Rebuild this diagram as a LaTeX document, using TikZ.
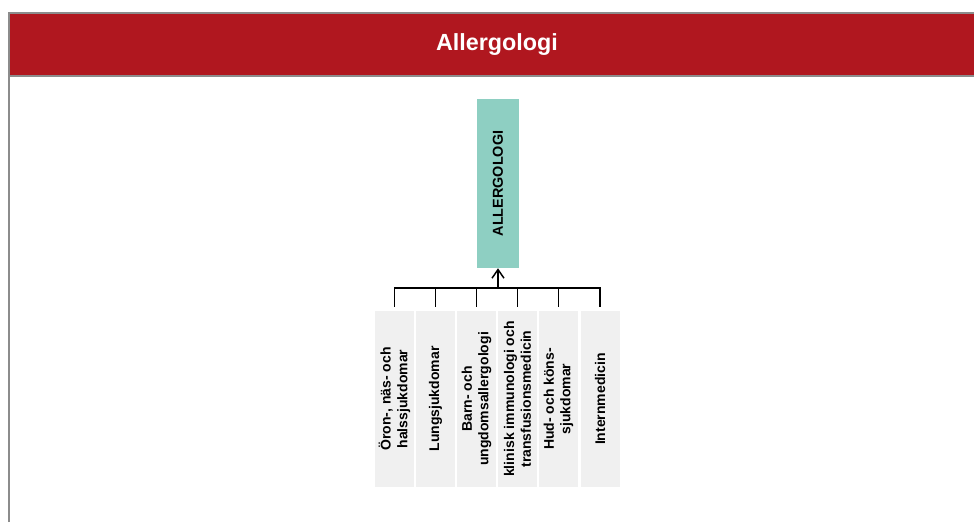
\documentclass[tikz,border=0pt]{standalone}
\usepackage{fontspec}
\setmainfont{Liberation Sans}
\usetikzlibrary{arrows.meta, positioning}
\definecolor{bannerred}{HTML}{B0171F}
\definecolor{tealbox}{HTML}{8ECFC2}
\definecolor{fieldgray}{HTML}{F0F0F0}
\definecolor{framegray}{HTML}{8C8C8C}

\begin{document}
\begin{tikzpicture}[x=0.75pt, y=0.75pt,
        field/.style={rotate=90, fill=fieldgray, minimum width=132pt, minimum height=29.25pt,
            inner sep=0pt, align=center, font=\fontsize{10.5}{12.5}\selectfont\bfseries},
        link/.style={line width=0.8pt, shorten <=3pt}]
        \useasboundingbox (0,0) rectangle (974,522);
        % frame and banner
        \fill[bannerred] (9,446) rectangle (974,509);
        \draw[framegray, line width=1pt] (9,0) -- (9,509) -- (974,509);
        \draw[framegray, line width=1pt] (9,446) -- (974,446);
        \node[text=white, font=\fontsize{17.5}{20}\selectfont\bfseries] (title) at (497,477) {Allergologi};
        
        \node[rotate=90, fill=tealbox, minimum width=126.75pt, minimum height=31.5pt,
            font=\fontsize{10.8}{12.5}\selectfont\bfseries] (allergologi) at (498,338.5) {ALLERGOLOGI};
        \coordinate (hub) at (498,234);
        
        \node[field] (oron) at (394.5,123) {Öron-, näs- och\\halssjukdomar};
        \node[field] (lunga) at (435.5,123) {Lungsjukdomar};
        \node[field] (barn) at (476.5,123) {Barn- och\\ungdomsallergologi};
        \node[field] (klinisk) at (517.5,123) {klinisk immunologi och\\transfusionsmedicin};
        \node[field] (hud) at (558.5,123) {Hud- och köns-\\sjukdomar};
        \node[field] (intern) at (600,123) {Internmedicin};
        
        \draw[link] (oron.east) |- (hub);
        \draw[link] (intern.east) |- (hub);
        \draw[link] (lunga.east) -- (lunga.east |- hub);
        \draw[link] (barn.east) -- (barn.east |- hub);
        \draw[link] (klinisk.east) -- (klinisk.east |- hub);
        \draw[link] (hud.east) -- (hud.east |- hub);
        \draw[-{Straight Barb[length=6.5pt, width=9pt]}, line width=1.1pt] (hub) -- (allergologi.west);
    \end{tikzpicture}
\end{document}
